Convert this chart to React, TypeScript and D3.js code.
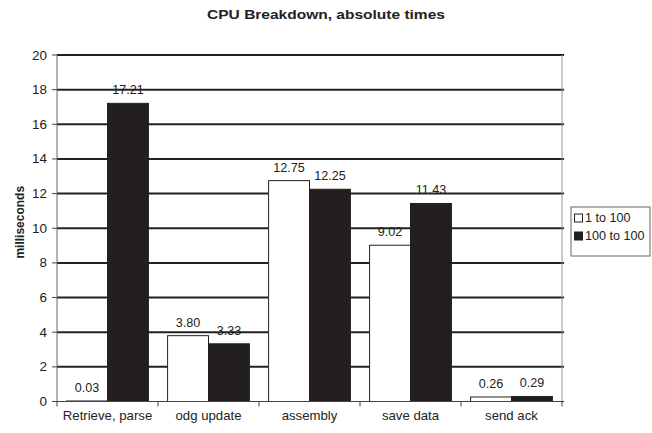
import React from "react";
import * as d3 from "d3";

const categories = ["Retrieve, parse", "odg update", "assembly", "save data", "send ack"];
const seriesNames = ["1 to 100", "100 to 100"];
const series1 = [0.03, 3.8, 12.75, 9.02, 0.26];
const series2 = [17.21, 3.33, 12.25, 11.43, 0.29];
const yTicks = [0, 2, 4, 6, 8, 10, 12, 14, 16, 18, 20];

const W = 652, H = 433;
const m = { left: 57, right: 562, top: 55, bottom: 401.5 };
const font = "Liberation Sans, Arial, sans-serif";

type TProps = { x: number; y: number; size?: number; sx?: number; anchor?: string; bold?: boolean; children: React.ReactNode };
function T({ x, y, size = 12, sx = 1.1, anchor = "start", bold = false, children }: TProps) {
  return (
    <text
      transform={`translate(${x},${y}) scale(${sx},1)`}
      textAnchor={anchor}
      fontFamily={font}
      fontSize={size}
      fontWeight={bold ? "bold" : "normal"}
      fill="#222"
    >
      {children}
    </text>
  );
}

export default function App() {
  const x = d3.scaleBand<string>().domain(categories).range([m.left, m.right]).paddingInner(0).paddingOuter(0);
  const y = d3.scaleLinear().domain([0, 20]).range([m.bottom, m.top]);
  const barW = x.bandwidth() * 0.405;
  const groupOff = (x.bandwidth() - 2 * barW) / 2;
  const data = [series1, series2];
  const fills = ["#ffffff", "#231f20"];
  return (
    <svg width={W} height={H} style={{ position: "absolute", left: 0, top: 0, background: "#fff" }}>
      <T x={326} y={19} size={13.5} sx={1.15} anchor="middle" bold>CPU Breakdown, absolute times</T>
      {yTicks.map((t) => (
        <line key={"g" + t} x1={m.left} x2={m.right + 2} y1={y(t)} y2={y(t)} stroke="#222" strokeWidth={t === 0 ? 1 : 2} />
      ))}
      <line x1={m.right} x2={m.right} y1={m.top} y2={m.bottom} stroke="#999" strokeWidth={1} />
      {categories.map((c, i) =>
        data.map((s, k) => {
          const bx = (x(c) as number) + groupOff + k * barW;
          const by = y(s[i]);
          return (
            <g key={c + k}>
              <rect x={bx} y={by} width={barW} height={y(0) - by} fill={fills[k]} stroke="#231f20" strokeWidth={1} />
              <T x={bx + barW / 2} y={by - 9} size={12} sx={1.05} anchor="middle">{s[i].toFixed(2)}</T>
            </g>
          );
        })
      )}
      <line x1={m.left} x2={m.left} y1={m.top} y2={m.bottom} stroke="#666" strokeWidth={1} />
      <line x1={m.left} x2={m.right} y1={m.bottom} y2={m.bottom} stroke="#444" strokeWidth={1} />
      {yTicks.map((t) => (
        <g key={"t" + t}>
          <line x1={m.left - 5} x2={m.left} y1={y(t)} y2={y(t)} stroke="#444" />
          <T x={m.left - 10} y={y(t) + 4.5} size={12} sx={1.12} anchor="end">{t}</T>
        </g>
      ))}
      {[...categories.map((c) => x(c) as number), m.right].map((v, i) => (
        <line key={"xt" + i} x1={v} x2={v} y1={m.bottom} y2={m.bottom + 5} stroke="#444" />
      ))}
      {categories.map((c) => (
        <T key={"xl" + c} x={(x(c) as number) + x.bandwidth() / 2} y={m.bottom + 18.5} size={12} sx={1.1} anchor="middle">{c}</T>
      ))}
      <text transform={`translate(24,${(m.top + m.bottom) / 2 - 6}) rotate(-90)`} textAnchor="middle" fontFamily={font} fontSize={12} fontWeight="bold" fill="#222">milliseconds</text>
      <rect x={571} y={207} width={79} height={49} fill="#fff" stroke="#666" strokeWidth={1} />
      {seriesNames.map((n, k) => (
        <g key={n}>
          <rect x={574.5} y={214 + k * 18} width={8} height={8} fill={fills[k]} stroke="#231f20" strokeWidth={1} />
          <T x={585} y={222 + k * 18} size={12} sx={1.05}>{n}</T>
        </g>
      ))}
    </svg>
  );
}
